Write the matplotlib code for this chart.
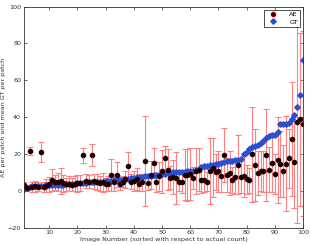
import numpy as np
import matplotlib
matplotlib.use('Agg')
import matplotlib.pyplot as plt
from matplotlib.lines import Line2D

# image index 1..100
idx = np.arange(1, 101)

ae_mean = [2.9, 1.5, 21.7, 2.0, 2.5, 2.3, 21.0, 2.0, 2.8, 3.5,
           5.8, 4.5, 4.8, 5.5, 4.0, 3.5, 3.8, 3.2, 3.8, 4.0,
           4.2, 19.2, 5.5, 4.8, 19.4, 5.2, 4.8, 4.0, 4.5, 3.6,
           3.8, 8.6, 4.5, 8.8, 3.8, 5.0, 6.2, 13.4, 5.0, 5.5,
           6.5, 3.8, 4.5, 16.0, 4.2, 8.5, 15.0, 4.5, 7.8, 10.5,
           18.0, 11.5, 7.2, 7.5, 6.8, 5.0, 5.0, 8.8, 8.5, 9.0,
           6.8, 10.5, 11.5, 6.0, 5.6, 5.0, 10.8, 12.5, 10.2, 10.5,
           7.8, 19.4, 8.6, 9.8, 6.0, 7.5, 14.2, 7.6, 7.8, 6.2,
           5.6, 19.8, 14.0, 9.6, 10.8, 10.5, 19.4, 11.5, 15.2, 9.0,
           16.7, 14.7, 10.8, 14.8, 17.7, 28.2, 15.4, 37.4, 38.8, 36.5]

ae_err = [2.0, 1.5, 2.2, 2.5, 3.0, 2.5, 5.5, 2.5, 3.5, 4.0,
          5.8, 4.0, 5.0, 7.0, 4.5, 3.5, 4.0, 3.5, 4.0, 4.5,
          4.5, 4.0, 3.8, 3.5, 6.0, 4.0, 4.5, 4.0, 5.0, 3.5,
          4.0, 8.5, 4.5, 7.0, 3.5, 3.0, 4.5, 7.5, 4.0, 5.5,
          6.0, 4.0, 4.5, 24.5, 4.0, 7.5, 8.0, 5.0, 8.0, 11.5,
          6.5, 11.0, 6.0, 9.0, 14.0, 5.0, 6.0, 14.0, 14.0, 14.0,
          6.0, 12.5, 11.5, 7.0, 6.0, 5.0, 18.0, 16.0, 10.0, 11.0,
          8.5, 14.8, 9.0, 12.0, 7.0, 9.5, 16.0, 9.0, 11.0, 8.0,
          7.0, 25.8, 19.5, 12.0, 11.0, 11.0, 25.2, 12.0, 16.0, 11.0,
          23.5, 18.0, 14.0, 26.0, 16.0, 31.0, 25.0, 55.0, 47.0, 50.0]

gt_mean = [1.2, 1.4, 1.8, 2.6, 2.7, 2.7, 2.8, 2.8, 2.9, 3.0,
           3.0, 3.1, 3.2, 3.3, 3.4, 3.5, 3.6, 3.7, 3.8, 4.0,
           4.1, 4.2, 4.3, 4.5, 4.6, 4.7, 4.8, 4.9, 5.0, 5.1,
           5.3, 5.4, 5.6, 5.7, 5.9, 6.0, 6.2, 6.5, 6.8, 7.1,
           7.3, 7.5, 7.7, 7.8, 8.0, 8.2, 8.4, 8.6, 8.8, 9.0,
           9.2, 9.5, 9.8, 10.0, 10.1, 10.2, 10.3, 10.4, 10.6, 10.8,
           11.0, 11.5, 12.0, 12.7, 13.4, 13.7, 13.9, 14.2, 14.5, 14.7,
           15.0, 15.6, 15.9, 16.1, 16.4, 16.6, 16.9, 17.1, 19.8, 21.2,
           22.5, 23.5, 24.2, 24.6, 25.8, 27.0, 28.6, 29.8, 30.1, 30.5,
           32.0, 36.3, 36.4, 36.5, 36.6, 38.8, 41.0, 45.5, 52.0, 71.0]

fig = plt.figure(figsize=(3.11, 2.45), dpi=100)
ax = fig.add_axes([0.077, 0.071, 0.897, 0.902])

ax.errorbar(idx, ae_mean, yerr=ae_err, fmt='o', color='black', markersize=3.0,
            markeredgecolor='#300000', ecolor='#ff8080', elinewidth=0.8,
            capsize=2.4, capthick=0.8)
ax.plot(idx, gt_mean, 'D', color='#2a4fd0', markersize=2.8,
        markeredgecolor='#2a4fd0')

ax.set_xlim(1, 100)
ax.set_ylim(-20, 100)
ax.set_xticks(np.arange(10, 101, 10))
ax.set_yticks(np.arange(-20, 101, 20))
ax.tick_params(direction='in', top=True, right=True, labelsize=4.6,
               length=2, width=0.5, colors='#333333', pad=2)
for s in ax.spines.values():
    s.set_linewidth(0.6)
    s.set_color('#333333')
ax.set_xlabel('Image Number (sorted with respect to actual count)', fontsize=4.6,
              color='#333333', labelpad=1)
ax.set_ylabel('AE per patch and mean GT per patch', fontsize=4.6,
              color='#333333', labelpad=1)

handles = [Line2D([], [], ls='none', marker='o', color='black', markersize=3.0,
                  markeredgecolor='#a00000'),
           Line2D([], [], ls='none', marker='D', color='#2a4fd0', markersize=2.8)]
leg = ax.legend(handles, ['AE', 'GT'], loc='upper right', fontsize=4.6,
                frameon=True, fancybox=False, edgecolor='black', borderpad=0.3,
                handlelength=2.0, handletextpad=1.6, borderaxespad=0.5,
                labelspacing=0.3)
leg.get_frame().set_linewidth(0.6)

fig.savefig('out.png', dpi=100)
